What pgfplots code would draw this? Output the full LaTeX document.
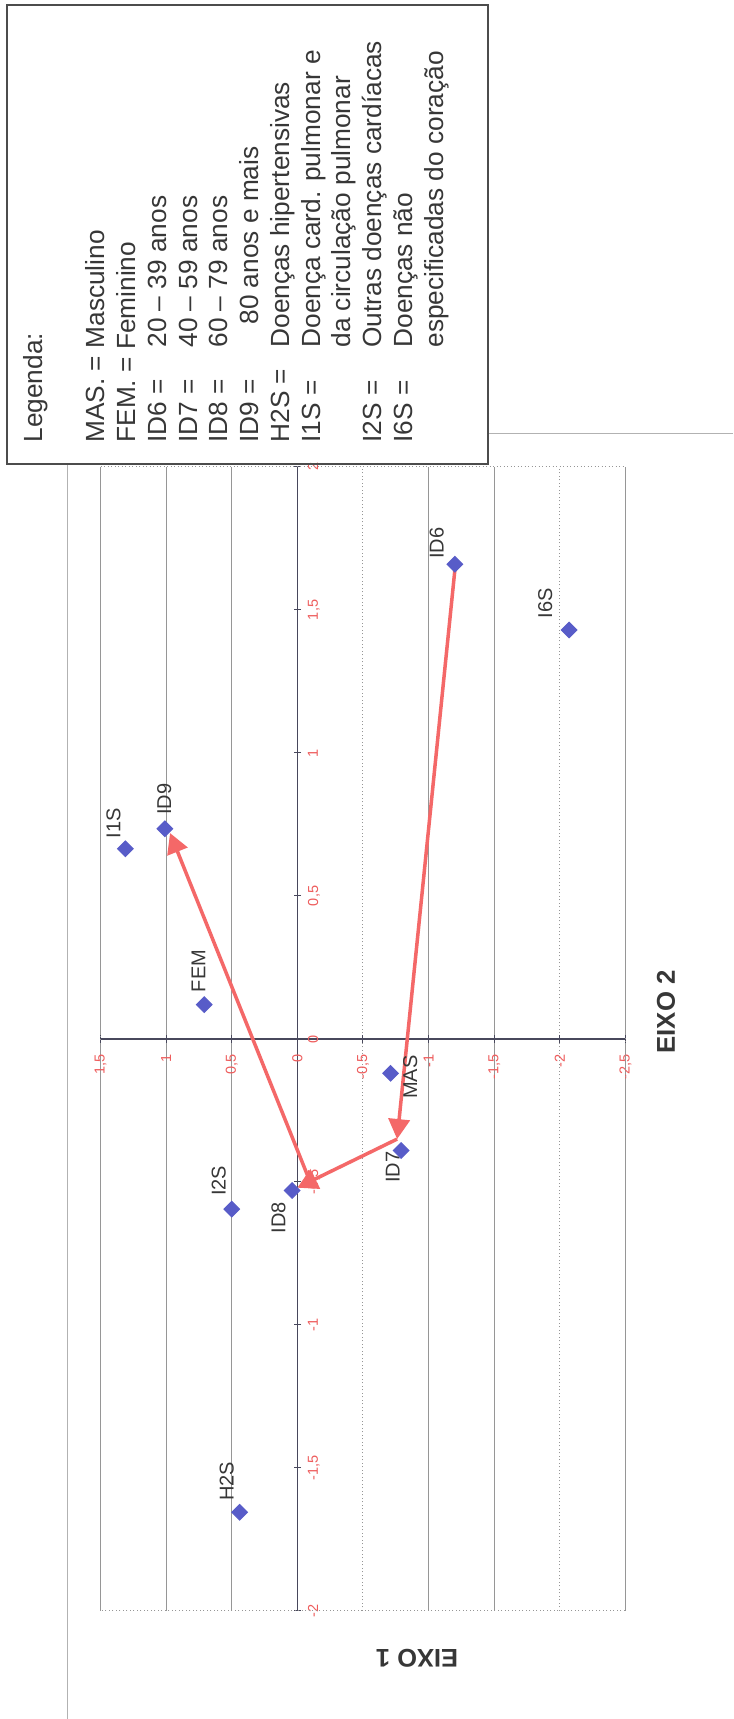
\documentclass[border=0pt]{standalone}
\usepackage{pgfplots}
\pgfplotsset{compat=1.18}
\usepackage{fontspec}
\setmainfont{Liberation Sans}
\usetikzlibrary{arrows.meta}

\definecolor{ptblue}{RGB}{88,92,200}
\definecolor{arrowred}{RGB}{244,104,104}
\definecolor{ticklbl}{RGB}{238,92,92}
\definecolor{gridgray}{RGB}{150,150,150}
\definecolor{axisdark}{RGB}{72,72,92}
\definecolor{txt}{RGB}{55,55,55}

\tikzset{
  plbl/.style={rotate=90, font=\fontsize{8}{9}\selectfont, text=txt, inner sep=0pt},
  lg/.style={rotate=90, anchor=base west, inner sep=0pt, text=txt,
             font=\fontsize{10.5}{12}\selectfont},
}

\begin{document}
\begin{tikzpicture}
% page background (1 unit = 0.4pt)
\begin{scope}[x=0.4pt,y=0.4pt]
  \fill[white] (0,0) rectangle (733,1719);
\end{scope}

% correspondence map, printed sideways: EIXO 1 runs across, EIXO 2 runs up
\begin{axis}[
  at={(40.2pt,43.2pt)}, anchor=south west,
  scale only axis, width=210pt, height=457.6pt,
  x dir=reverse,
  xmin=-2.5, xmax=1.5, ymin=-2, ymax=2,
  axis x line=middle, axis y line=middle,
  every inner x axis line/.style={},
  every inner y axis line/.style={},
  axis line style={-, axisdark, line width=0.6pt},
  xtick={-2.5,-1.5,-1,0,0.5,1,1.5},
  extra x ticks={-2,-0.5},
  extra x tick style={major grid style={gridgray, densely dotted, line width=0.4pt}},
  ytick={-2,-1.5,...,2},
  xmajorgrids,
  major grid style={gridgray, line width=0.4pt},
  tick align=center, major tick length=3pt,
  tick style={axisdark, line width=0.4pt},
  hide obscured x ticks=false, hide obscured y ticks=false,
  /pgf/number format/.cd, use comma, fixed, assume math mode=true, /pgfplots/.cd,
  ticklabel style={font=\fontsize{5.8}{6}\selectfont, text=ticklbl},
  xticklabel style={rotate=90, anchor=east, inner xsep=4.4pt, inner ysep=0pt},
  yticklabel style={rotate=90, anchor=north, inner ysep=5.5pt, inner xsep=0pt},
  clip=false,
]
  % plot-area frame
  \draw[gridgray, densely dotted, line width=0.4pt] (rel axis cs:0,0) rectangle (rel axis cs:1,1);

  % trajectory of the age groups ID6 -> ID7 -> ID8 -> ID9
  \addplot[arrowred, line width=1.4pt, -{Triangle[length=8pt,width=8.5pt]}]
    coordinates {(-1.20,1.64) (-0.76,-0.35)};
  \addplot[arrowred, line width=1.4pt, -{Triangle[length=8pt,width=8.5pt]}]
    coordinates {(-0.76,-0.35) (0.00,-0.52)};
  \addplot[arrowred, line width=1.4pt, -{Triangle[length=8pt,width=8.5pt]}]
    coordinates {(-0.08,-0.48) (0.97,0.72)};

  % category coordinates (EIXO 1, EIXO 2)
  \addplot[only marks, mark=square*, mark size=2.2pt, color=ptblue,
    mark options={rotate=45, fill=ptblue, draw=ptblue}]
    coordinates {
      (-0.71,-0.12)  % MAS
      (0.71,0.12)    % FEM
      (-1.20,1.66)   % ID6
      (-0.79,-0.39)  % ID7
      (0.04,-0.53)   % ID8
      (1.01,0.735)   % ID9
      (0.44,-1.655)  % H2S
      (1.31,0.665)   % I1S
      (0.50,-0.595)  % I2S
      (-2.07,1.43)   % I6S
    };

  \node[plbl] at ([xshift=-2.3pt,yshift=13.5pt]axis cs:0.71,0.12) {FEM};
  \node[plbl] at ([xshift=7.9pt,yshift=-1.6pt]axis cs:-0.71,-0.12) {MAS};
  \node[plbl] at ([xshift=-3.3pt,yshift=-6.7pt]axis cs:-0.79,-0.39) {ID7};
  \node[plbl] at ([xshift=-5.5pt,yshift=-10.8pt]axis cs:0.04,-0.53) {ID8};
  \node[plbl] at ([xshift=-5.2pt,yshift=11.3pt]axis cs:0.50,-0.595) {I2S};
  \node[plbl] at ([xshift=-5.2pt,yshift=12.4pt]axis cs:0.44,-1.655) {H2S};
  \node[plbl] at ([xshift=-7.3pt,yshift=8.4pt]axis cs:-1.20,1.66) {ID6};
  \node[plbl] at ([xshift=-9.5pt,yshift=10.8pt]axis cs:-2.07,1.43) {I6S};
  \node[plbl] at ([xshift=-0.2pt,yshift=11.9pt]axis cs:1.01,0.735) {ID9};
  \node[plbl] at ([xshift=-4.8pt,yshift=10.2pt]axis cs:1.31,0.665) {I1S};
\end{axis}

\begin{scope}[x=0.4pt,y=0.4pt]
  % page rules
  \draw[black!30, line width=0.4pt] (67,0) -- (67,1255);
  \draw[black!30, line width=0.4pt] (488,1285) -- (733,1285);

  % axis titles
  \node[rotate=90, font=\bfseries\fontsize{10.3}{12}\selectfont, text=txt] at (666,707) {EIXO 2};
  \node[rotate=180, font=\bfseries\fontsize{10.2}{12}\selectfont, text=txt] at (417,61) {EIXO 1};

  % key box
  \draw[black!70, line width=0.8pt] (7,1255) rectangle (488,1714);
  \node[lg] at (42,1276) {Legenda:};
  \node[lg] at (104,1276) {MAS. = Masculino};
  \node[lg] at (135,1276) {FEM. = Feminino};
  \node[lg] at (166,1276) {ID6 =};  \node[lg] at (166,1371) {20 – 39 anos};
  \node[lg] at (197,1276) {ID7 =};  \node[lg] at (197,1371) {40 – 59 anos};
  \node[lg] at (227,1276) {ID8 =};  \node[lg] at (227,1371) {60 – 79 anos};
  \node[lg] at (258,1276) {ID9 =};  \node[lg] at (258,1394) {80 anos e mais};
  \node[lg] at (289,1276) {H2S =};  \node[lg] at (289,1371) {Doenças hipertensivas};
  \node[lg] at (320,1276) {I1S =};  \node[lg] at (320,1371) {Doença card. pulmonar e};
                                    \node[lg] at (350,1371) {da circulação pulmonar};
  \node[lg] at (381,1276) {I2S =};  \node[lg] at (381,1371) {Outras doenças cardíacas};
  \node[lg] at (412,1276) {I6S =};  \node[lg] at (412,1371) {Doenças não};
                                    \node[lg] at (443,1371) {especificadas do coração};

  \pgfresetboundingbox
  \path[use as bounding box] (0,0) rectangle (733,1719);
\end{scope}
\end{tikzpicture}
\end{document}
